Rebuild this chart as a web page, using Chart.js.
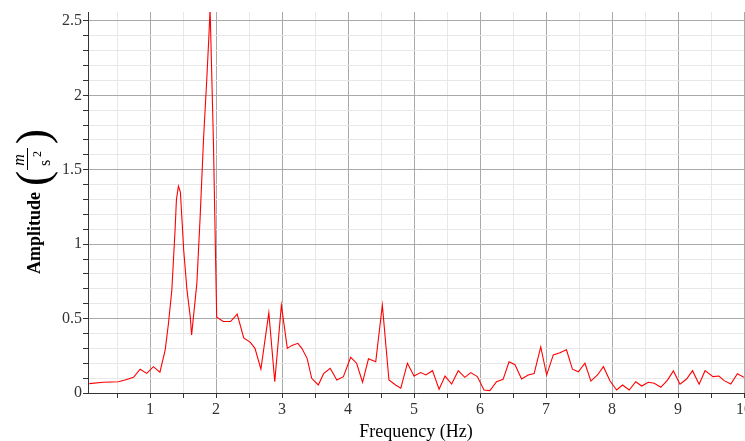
<!DOCTYPE html>
<html>
<head>
<meta charset="utf-8">
<script src="https://cdn.jsdelivr.net/npm/chart.js@4/dist/chart.umd.min.js"></script>
<style>
html,body{margin:0;padding:0;background:#fff;}
#wrap{width:745px;height:441px;position:relative;}
</style>
</head>
<body>
<div id="wrap"><canvas id="c"></canvas></div>
<script>
// Frequency (Hz) and amplitude (m/s^2)
const freq = [0.08,0.29,0.52,0.62,0.75,0.85,0.95,1.05,1.15,1.23,1.28,1.33,1.38,1.40,1.43,1.46,1.51,1.56,1.61,1.63,1.71,1.76,1.81,1.86,1.89,1.91,1.96,2.01,2.11,2.22,2.32,2.42,2.52,2.59,2.68,2.80,2.89,2.99,3.08,3.15,3.24,3.30,3.38,3.45,3.55,3.63,3.73,3.83,3.93,4.04,4.13,4.22,4.31,4.42,4.52,4.62,4.72,4.80,4.90,5.00,5.10,5.18,5.28,5.38,5.47,5.57,5.67,5.77,5.86,5.96,6.06,6.15,6.25,6.35,6.44,6.53,6.63,6.73,6.82,6.92,7.01,7.11,7.21,7.31,7.40,7.49,7.59,7.68,7.78,7.87,7.97,8.07,8.16,8.26,8.36,8.45,8.55,8.64,8.74,8.84,8.93,9.03,9.13,9.22,9.32,9.41,9.53,9.62,9.70,9.80,9.90,10.0];
const amplitude = [0.063,0.072,0.076,0.087,0.105,0.16,0.132,0.177,0.14,0.29,0.47,0.69,1.10,1.30,1.39,1.35,0.96,0.69,0.51,0.39,0.74,1.19,1.70,2.11,2.38,2.58,1.70,0.51,0.48,0.48,0.53,0.37,0.34,0.30,0.16,0.54,0.076,0.59,0.30,0.32,0.334,0.30,0.233,0.099,0.054,0.13,0.166,0.087,0.11,0.24,0.20,0.072,0.23,0.21,0.59,0.087,0.054,0.032,0.20,0.114,0.137,0.121,0.15,0.025,0.114,0.06,0.15,0.105,0.137,0.11,0.02,0.016,0.076,0.092,0.21,0.19,0.094,0.121,0.13,0.31,0.121,0.256,0.27,0.29,0.16,0.143,0.20,0.08,0.121,0.177,0.08,0.02,0.054,0.02,0.076,0.047,0.072,0.065,0.038,0.087,0.148,0.059,0.094,0.15,0.059,0.15,0.11,0.114,0.083,0.06,0.13,0.105];

// Tick positions (major labelled, minor grid only)
const xTicks = [0.5,1,1.5,2,2.5,3,3.5,4,4.5,5,5.5,6,6.5,7,7.5,8,8.5,9,9.5,10];
const xLabels = [1,2,3,4,5,6,7,8,9,10];
const yTicks = [0,0.1,0.2,0.3,0.4,0.5,0.6,0.7,0.8,0.9,1,1.1,1.2,1.3,1.4,1.5,1.6,1.7,1.8,1.9,2,2.1,2.2,2.3,2.4,2.5];
const yLabels = [0,0.5,1,1.5,2,2.5];

const xTitle = 'Frequency (Hz)';
const yTitle = 'Amplitude';

const isMajorX = v => Math.abs(v - Math.round(v)) < 1e-6;
const isMajorY = v => Math.abs(v*2 - Math.round(v*2)) < 1e-6;
const MAJOR = '#a9a9a9', MINOR = '#e8e8e8';

const titlePlugin = {
  id: 'titles',
  afterDraw(chart) {
    const ctx = chart.ctx;
    const area = chart.chartArea;
    ctx.save();
    ctx.fillStyle = '#000';
    // x title
    ctx.font = '18px "Liberation Serif"';
    ctx.textAlign = 'center';
    ctx.textBaseline = 'alphabetic';
    ctx.fillText(xTitle, (area.left + area.right) / 2, 437);
    // y title (rotated)
    ctx.translate(0, 0);
    ctx.rotate(-Math.PI / 2);
    // local (lx, ly) -> screen (ly, -lx)
    ctx.font = 'bold 18px "Liberation Serif"';
    ctx.textAlign = 'left';
    ctx.fillText(yTitle, -274, 40);
    // big parentheses
    ctx.font = '46px "Liberation Serif"';
    ctx.textBaseline = 'middle';
    ctx.textAlign = 'left';
    ctx.fillText('(', -186, 36);
    ctx.textAlign = 'right';
    ctx.fillText(')', -129, 36);
    // fraction m / s^2
    ctx.font = 'italic 16px "Liberation Serif"';
    ctx.textAlign = 'center';
    ctx.textBaseline = 'alphabetic';
    ctx.fillText('m', -160, 24);
    ctx.fillRect(-170, 27, 22, 1);
    ctx.font = '16px "Liberation Serif"';
    ctx.fillText('s', -163, 50);
    ctx.font = '12px "Liberation Serif"';
    ctx.fillText('2', -154, 41);
    ctx.restore();
  }
};

new Chart(document.getElementById('c'), {
  type: 'line',
  data: {
    datasets: [{
      data: freq.map((f, i) => ({x: f, y: amplitude[i]})),
      borderColor: '#ff0000',
      borderWidth: 1.1,
      pointRadius: 0,
      tension: 0,
      fill: false
    }]
  },
  options: {
    responsive: true,
    maintainAspectRatio: false,
    animation: false,
    events: [],
    layout: {padding: {top: 12, right: 1, left: 0, bottom: 0}},
    plugins: {legend: {display: false}, tooltip: {enabled: false}},
    scales: {
      x: {
        type: 'linear',
        min: 0.06,
        max: 10,
        afterBuildTicks: s => { s.ticks = xTicks.map(v => ({value: v})); },
        afterFit: s => { s.height = 48; s.paddingLeft = 0; s.paddingRight = 0; },
        ticks: {
          autoSkip: false, maxRotation: 0, padding: 2,
          color: '#333',
          font: {family: '"Liberation Serif"', size: 16},
          callback: v => xLabels.includes(v) ? String(v) : ''
        },
        grid: {
          color: c => isMajorX(c.tick.value) ? MAJOR : MINOR,
          lineWidth: 1,
          drawTicks: true,
          tickLength: 5,
          tickColor: '#333'
        },
        border: {display: true, color: '#333', width: 1}
      },
      y: {
        type: 'linear',
        min: 0,
        max: 2.56,
        afterBuildTicks: s => { s.ticks = yTicks.map(v => ({value: v})); },
        afterFit: s => { s.width = 88; s.paddingTop = 0; s.paddingBottom = 0; },
        ticks: {
          autoSkip: false, padding: 1,
          color: '#333',
          font: {family: '"Liberation Serif"', size: 16},
          callback: v => yLabels.some(l => Math.abs(l - v) < 1e-6) ? String(Math.round(v*10)/10) : ''
        },
        grid: {
          color: c => isMajorY(c.tick.value) ? MAJOR : MINOR,
          lineWidth: 1,
          drawTicks: true,
          tickLength: 5,
          tickColor: '#333'
        },
        border: {display: true, color: '#333', width: 1}
      }
    }
  },
  plugins: [titlePlugin]
});
</script>
</body>
</html>
